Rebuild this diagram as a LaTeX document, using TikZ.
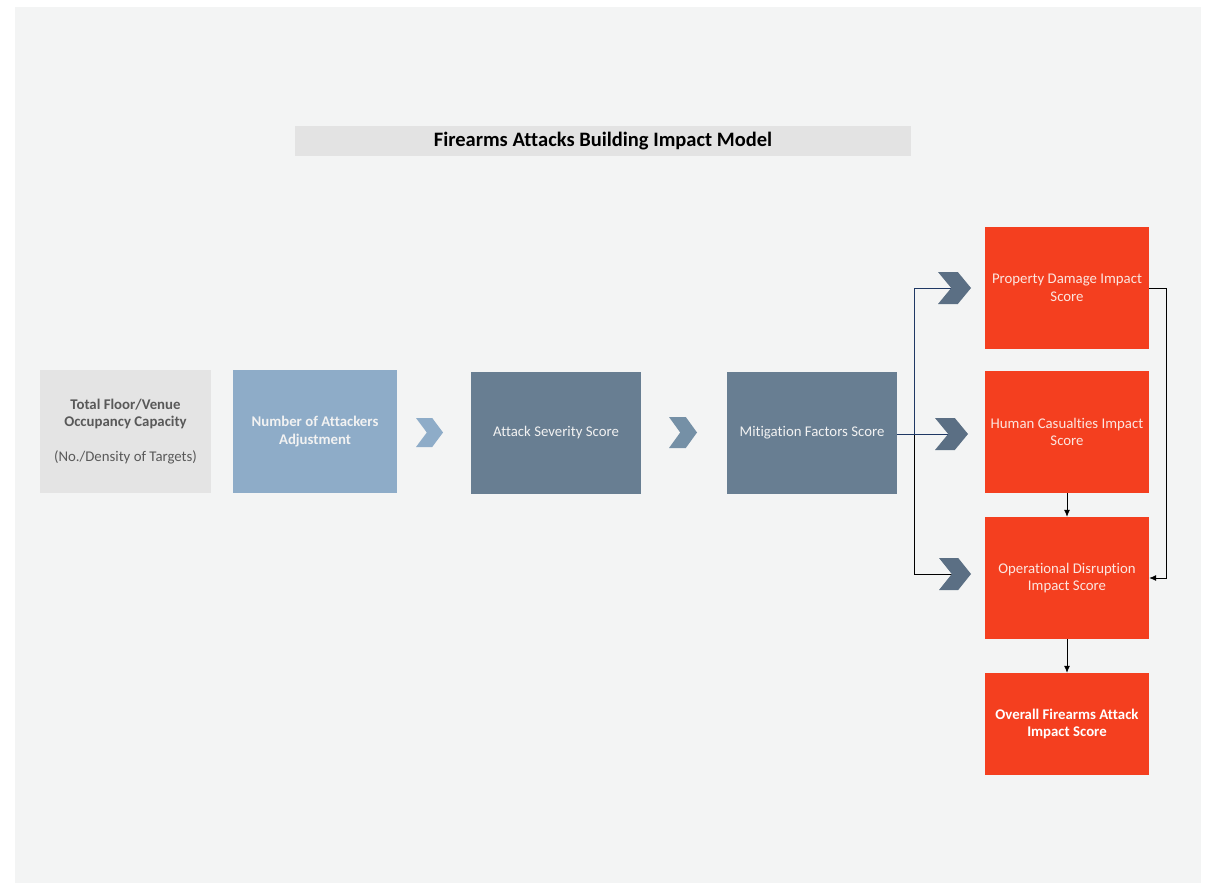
\documentclass[tikz,border=0pt]{standalone}
\usepackage{fontspec}
\setmainfont{Carlito}[Ligatures={NoCommon,NoContextual}]
\usetikzlibrary{arrows.meta}
\definecolor{bgc}{HTML}{F3F4F4}
\definecolor{titlec}{HTML}{E3E3E3}
\definecolor{grayc}{HTML}{E4E4E4}
\definecolor{graytext}{HTML}{595959}
\definecolor{lightblue}{HTML}{8EACC8}
\definecolor{slate}{HTML}{687E92}
\definecolor{chevmid}{HTML}{7590A6}
\definecolor{chevdark}{HTML}{5B6F84}
\definecolor{redc}{HTML}{F43F1F}
\definecolor{redtext}{HTML}{FCE6E0}
\definecolor{navy}{HTML}{1F3864}
\newcommand\mychev[6]{% name, L, R, T, B, color
  \pgfmathsetmacro\cw{#3-#2}
  \fill[#6] (#2,#4) -- ({#2+0.6*\cw},#4) -- (#3,{(#4+#5)/2}) -- ({#2+0.6*\cw},#5) -- (#2,#5) -- ({#2+0.4*\cw},{(#4+#5)/2}) -- cycle;
  \coordinate (#1) at ({#2+0.4*\cw},{(#4+#5)/2});
}
\tikzset{
  box/.style={inner sep=0pt, align=center, font=\fontsize{14.8}{17.5}\selectfont},
  redbox/.style={box, fill=redc, text=redtext, minimum width=164pt, minimum height=122pt},
  slatebox/.style={box, fill=slate, text=white!95!black, minimum width=170pt, minimum height=122pt},
  conn/.style={line width=0.8pt},
  arr/.style={conn, -{Latex[length=7pt,width=6pt]}},
}
\begin{document}
\begin{tikzpicture}[x=1pt,y=-1pt]
\useasboundingbox (0,0) rectangle (1205,884);
\fill[white] (0,0) rectangle (1205,884);
\fill[bgc] (15,7) rectangle (1201,883);
\node[box, fill=titlec, minimum width=616pt, minimum height=30pt, font=\fontsize{20.5}{24}\selectfont\bfseries] (title) at (603,141) {Firearms Attacks Building Impact Model};
\node[box, fill=grayc, text=graytext, minimum width=171pt, minimum height=123pt] (b1) at (125.5,431.5) {\textbf{Total Floor/Venue}\\\textbf{Occupancy Capacity}\\[17.5pt](No./Density of Targets)};
\node[box, fill=lightblue, text=white!95!black, minimum width=164pt, minimum height=123pt, font=\fontsize{14.8}{17.5}\selectfont\bfseries] (b2) at (315,431.5) {Number of Attackers\\Adjustment};
\node[slatebox] (b3) at (556,433) {Attack Severity Score};
\node[slatebox] (b4) at (812,433) {Mitigation Factors Score};
\node[redbox] (r1) at (1067,288) {Property Damage Impact\\Score};
\node[redbox] (r2) at (1067,432) {Human Casualties Impact\\Score};
\node[redbox] (r3) at (1067,578) {Operational Disruption\\Impact Score};
\node[redbox, minimum height=102pt, text=white, font=\fontsize{14.8}{17.5}\selectfont\bfseries] (r4) at (1067,724) {Overall Firearms Attack\\Impact Score};
\mychev{ca}{416}{443}{418}{447}{lightblue}
\mychev{cb}{669}{697}{417}{448}{chevmid}
\coordinate (split) at (914,434);
\draw[conn, navy] (b4.east |- split) -- (split);
\draw[conn, black] (split) |- (954,574) coordinate (nc3);
\draw[conn, navy] (split) |- (954,288) coordinate (nc1);
\draw[conn, navy] (split) -- (954,434) coordinate (nc2);
\mychev{c1}{938}{971}{272}{304}{chevdark}
\mychev{c2}{935}{968}{418}{450}{chevdark}
\mychev{c3}{939}{971}{558}{590}{chevdark}
\draw[arr] (r1.east) -- ++(17,0) |- (r3.east);
\draw[arr] (r2.south) -- (r3.north);
\draw[arr] (r3.south) -- (r4.north);
\end{tikzpicture}
\end{document}
